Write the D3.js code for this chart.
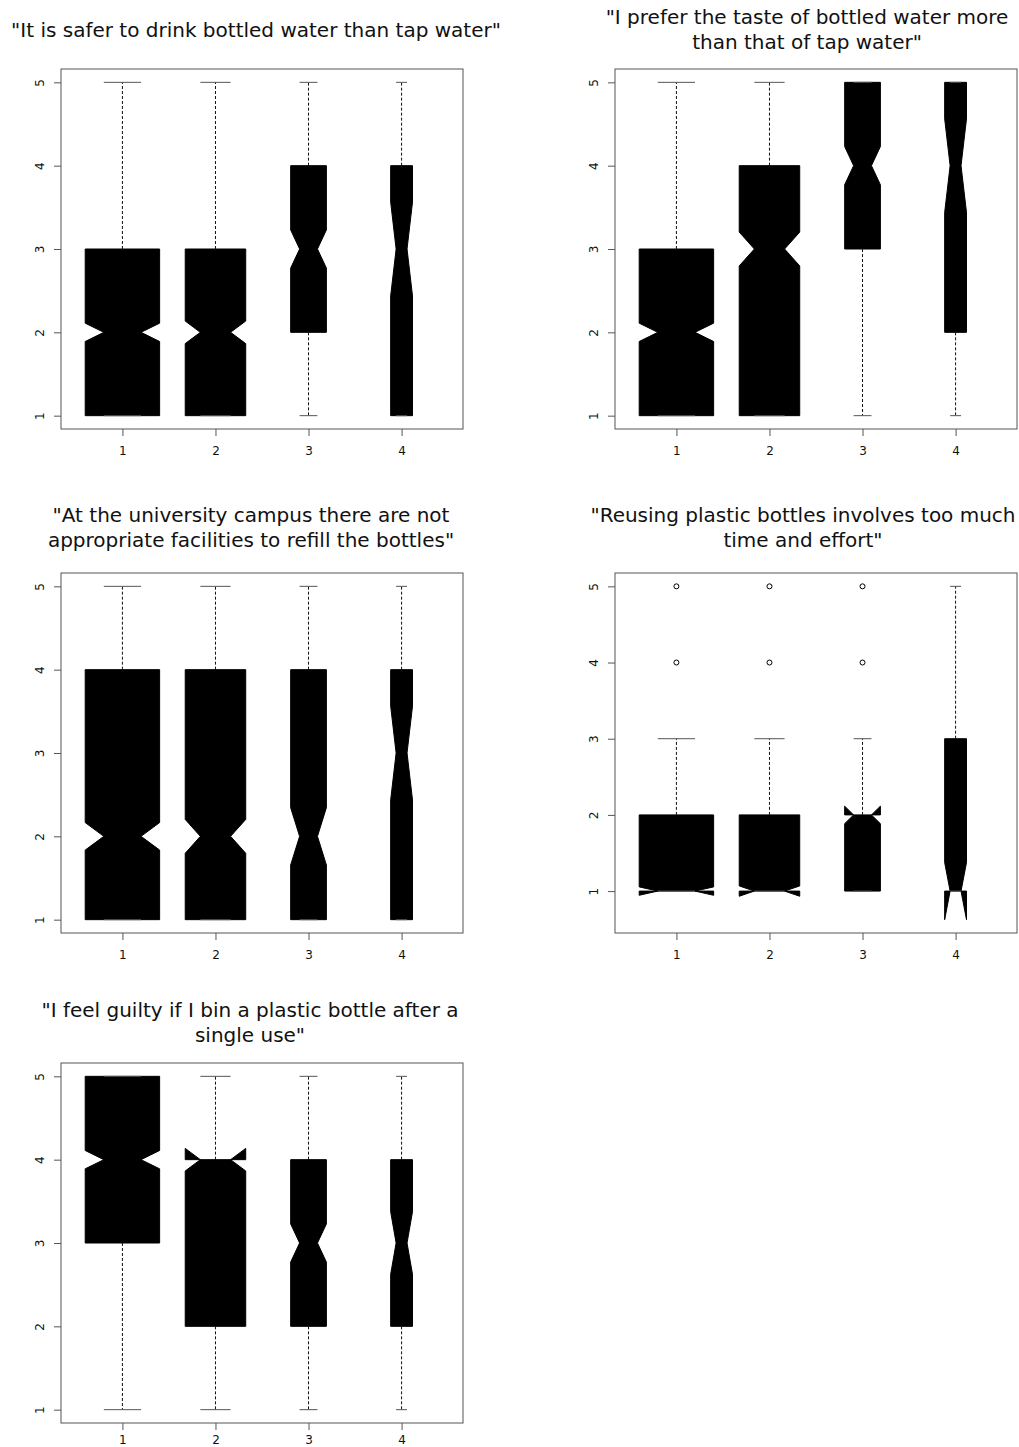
<!DOCTYPE html>
<html lang="en">
<head>
<meta charset="UTF-8">
<title>Bottled water boxplots</title>
<script src="https://cdn.jsdelivr.net/npm/d3@7"></script>
<style>
    body { margin: 0; background: #fff; }
    text { font-family: "DejaVu Sans", sans-serif; fill: #111; }
</style>
</head>
<body>
<div id="main_container"></div>
<script>

    // groups on the x axis and their sizes (box width ~ sqrt(n), notch ~ 1/sqrt(n))
    var groups = [1, 2, 3, 4];
    var groupN = [825, 545, 190, 71];
    var yTicks = [1, 2, 3, 4, 5];

    var panelTitles = [
        ["\"It is safer to drink bottled water than tap water\""],
        ["\"I prefer the taste of bottled water more", "than that of tap water\""],
        ["\"At the university campus there are not", "appropriate facilities to refill the bottles\""],
        ["\"Reusing plastic bottles involves too much", "time and effort\""],
        ["\"I feel guilty if I bin a plastic bottle after a", "single use\""]
    ];

    // [lower whisker, q1, median, q3, upper whisker] for groups 1..4
    var safer      = [[1, 1, 2, 3, 5], [1, 1, 2, 3, 5], [1, 2, 3, 4, 5], [1, 1, 3, 4, 5]];
    var taste      = [[1, 1, 2, 3, 5], [1, 1, 3, 4, 5], [1, 3, 4, 5, 5], [1, 2, 4, 5, 5]];
    var facilities = [[1, 1, 2, 4, 5], [1, 1, 2, 4, 5], [1, 1, 2, 4, 5], [1, 1, 3, 4, 5]];
    var effort     = [[1, 1, 1, 2, 3], [1, 1, 1, 2, 3], [1, 1, 2, 2, 3], [1, 1, 1, 3, 5]];
    var guilty     = [[1, 3, 4, 5, 5], [1, 2, 4, 4, 5], [1, 2, 3, 4, 5], [1, 2, 3, 4, 5]];

    // outliers per group
    var noOut     = [[], [], [], []];
    var effortOut = [[4, 5], [4, 5], [4, 5], []];

    var panelStats = [safer, taste, facilities, effort, guilty];
    var panelOuts  = [noOut, noOut, noOut, effortOut, noOut];

    // layout
    var svgWidth = 1019;
    var svgHeight = 1447;
    var frameW = 402;
    var frameH = 360;
    var panelPos = [
        { x: 61,  y: 69,   tx: 256, ty: [37],         xpad: 10 },
        { x: 615, y: 69,   tx: 807, ty: [24, 49],     xpad: 10 },
        { x: 61,  y: 573,  tx: 251, ty: [522, 547],   xpad: 10 },
        { x: 615, y: 573,  tx: 803, ty: [522, 547],   xpad: 10 },
        { x: 61,  y: 1063, tx: 250, ty: [1017, 1042], xpad: 5 }
    ];

    var svg = d3.select("#main_container").append("svg")
            .attr("width", svgWidth)
            .attr("height", svgHeight)
            .style("background", "#fff");

    panelStats.forEach(function(stats, p) {
        drawPanel(stats, panelOuts[p], panelTitles[p], panelPos[p]);
    });

    function drawPanel(stats, outs, title, pos) {

        var conf = stats.map(function(s, i) {
            var h = 1.58 * (s[3] - s[1]) / Math.sqrt(groupN[i]);
            return [s[2] - h, s[2] + h];
        });

        var allVals = d3.merge([d3.merge(stats), d3.merge(conf), d3.merge(outs)]);
        var lo = d3.min(allVals), hi = d3.max(allVals);
        var pad = 0.04 * (hi - lo);

        var x = d3.scaleLinear().domain([0.34, 4.66]).range([0, frameW]);
        var y = d3.scaleLinear().domain([lo - pad, hi + pad]).range([frameH, 0]);
        var maxSq = Math.sqrt(d3.max(groupN));

        // title
        svg.append("g").selectAll("text")
            .data(title)
            .enter().append("text")
            .attr("x", pos.tx)
            .attr("y", function(d, i) { return pos.ty[i]; })
            .attr("text-anchor", "middle")
            .style("font-size", "20px")
            .text(function(d) { return d; });

        var g = svg.append("g")
            .attr("transform", "translate(" + pos.x + "," + pos.y + ")");

        stats.forEach(function(s, i) {
            var cx = groups[i];
            var wid = 0.4 * Math.sqrt(groupN[i]) / maxSq;
            var c = conf[i];

            // notched box, same point order as R's bxp
            var xs = [-1, 1, 1, 0.5, 1, 1, -1, -1, -0.5, -1];
            var ys = [s[1], s[1], c[0], s[2], c[1], s[3], s[3], c[1], s[2], c[0]];
            var pts = xs.map(function(k, j) { return [x(cx + k * wid), y(ys[j])]; });

            g.append("polygon")
                .attr("points", pts.map(function(q) { return q.join(","); }).join(" "))
                .attr("fill", "#000")
                .attr("stroke", "#000")
                .attr("stroke-width", 1);

            // whiskers
            [[s[1], s[0]], [s[3], s[4]]].forEach(function(w) {
                if (w[0] === w[1]) return;
                g.append("line")
                    .attr("x1", x(cx)).attr("x2", x(cx))
                    .attr("y1", y(w[0])).attr("y2", y(w[1]))
                    .attr("stroke", "#111")
                    .attr("stroke-width", 1)
                    .attr("stroke-dasharray", "3,2");
            });

            // staples
            [s[0], s[4]].forEach(function(v) {
                g.append("line")
                    .attr("x1", x(cx - wid * 0.5)).attr("x2", x(cx + wid * 0.5))
                    .attr("y1", y(v)).attr("y2", y(v))
                    .attr("stroke", "#555")
                    .attr("stroke-width", 1);
            });

            // outliers
            g.selectAll(".out" + i)
                .data(outs[i])
                .enter().append("circle")
                .attr("class", "out" + i)
                .attr("cx", x(cx))
                .attr("cy", function(d) { return y(d); })
                .attr("r", 2.5)
                .attr("fill", "none")
                .attr("stroke", "#000")
                .attr("stroke-width", 1);
        });

        // frame
        g.append("rect")
            .attr("width", frameW)
            .attr("height", frameH)
            .attr("fill", "none")
            .attr("stroke", "#555")
            .attr("stroke-width", 1);

        // axes
        var yAxis = g.append("g")
            .call(d3.axisLeft(y).tickValues(yTicks).tickSize(7).tickFormat(d3.format("d")));
        yAxis.select(".domain").remove();
        yAxis.selectAll("line").attr("stroke", "#555");
        yAxis.selectAll("text")
            .attr("x", 0)
            .attr("dy", null)
            .attr("text-anchor", "middle")
            .attr("transform", "translate(-17,0) rotate(-90)")
            .style("font-size", "12px")
            .style("font-family", "DejaVu Sans, sans-serif")
            .attr("fill", "#222");

        var xAxis = g.append("g")
            .attr("transform", "translate(0," + frameH + ")")
            .call(d3.axisBottom(x).tickValues(groups).tickSize(7).tickPadding(pos.xpad).tickFormat(d3.format("d")));
        xAxis.select(".domain").remove();
        xAxis.selectAll("line").attr("stroke", "#555");
        xAxis.selectAll("text")
            .style("font-size", "12px")
            .style("font-family", "DejaVu Sans, sans-serif")
            .attr("fill", "#222");
    }
</script>
</body>
</html>
